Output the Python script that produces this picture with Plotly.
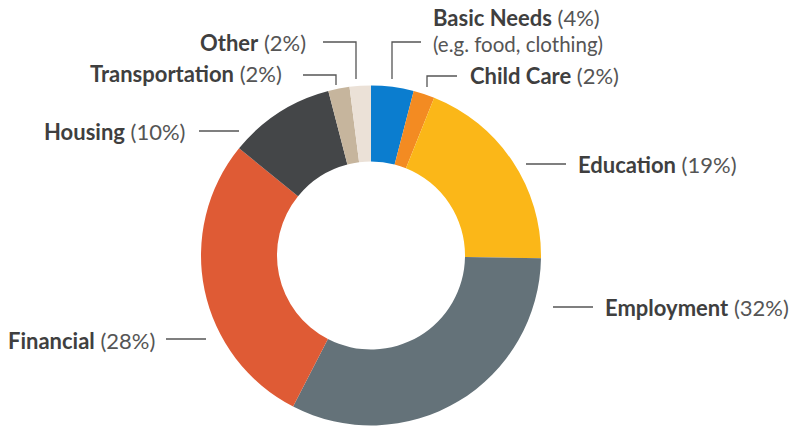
import plotly.graph_objects as go

# Share of support by category (percent)
categories = ["Basic Needs", "Child Care", "Education", "Employment",
              "Financial", "Housing", "Transportation", "Other"]
shares = [4, 2, 19, 32, 28, 10, 2, 2]
slice_colors = ["#0b7dcf", "#f38b22", "#fbb718", "#647279",
                "#df5b35", "#444648", "#c6b59d", "#ebe1d7"]
subtitles = {"Basic Needs": "(e.g. food, clothing)"}

W, H = 793, 427


def px(x):
    return x / W


def py(y):
    return 1 - y / H


# label placement (pixels): anchor x, y, side; leader polyline
label_layout = {
    "Basic Needs":    dict(x=431, y=17, anchor="left",  leader=[(421, 42), (392, 42), (392, 79)]),
    "Child Care":     dict(x=468, y=76, anchor="left",  leader=[(457, 76), (427, 76), (427, 87)]),
    "Education":      dict(x=576, y=164, anchor="left", leader=[(566, 164), (526, 164)]),
    "Employment":     dict(x=603, y=307, anchor="left", leader=[(593, 307), (553, 307)]),
    "Financial":      dict(x=157, y=340, anchor="right", leader=[(166, 339), (206, 339)]),
    "Housing":        dict(x=187, y=131, anchor="right", leader=[(199, 131), (239, 131)]),
    "Transportation": dict(x=284, y=74, anchor="right", leader=[(303, 75), (336, 75), (336, 85)]),
    "Other":          dict(x=308, y=42, anchor="right", leader=[(323, 42), (356, 42), (356, 79)]),
}

FONT = "Lato, 'Open Sans', sans-serif"
FS = 22
SUB_FS = 20.5
BOLD_COL = "#3f3f3f"
REG_COL = "#555555"

fig = go.Figure(go.Pie(
    labels=categories,
    values=shares,
    marker=dict(colors=slice_colors, line=dict(width=0)),
    hole=0.553,
    sort=False,
    direction="clockwise",
    rotation=0,
    textinfo="none",
    hoverinfo="label+value",
    showlegend=False,
    domain=dict(x=[px(201), px(541)], y=[py(425.5), py(85.5)]),
))

annotations = []
shapes = []
for name, val in zip(categories, shares):
    spec = label_layout[name]
    annotations.append(dict(
        x=px(spec["x"]), y=py(spec["y"]), xref="paper", yref="paper",
        xanchor=spec["anchor"], yanchor="middle", showarrow=False,
        text=f"<b><span style='color:{BOLD_COL}'>{name}</span></b> ({val}%)",
        font=dict(family=FONT, size=FS, color=REG_COL),
    ))
    if name in subtitles:
        annotations.append(dict(
            x=px(spec["x"]), y=py(spec["y"] + 27), xref="paper", yref="paper",
            xanchor=spec["anchor"], yanchor="middle", showarrow=False,
            text=subtitles[name],
            font=dict(family=FONT, size=SUB_FS, color=REG_COL),
        ))
    pts = spec["leader"]
    path = "M " + " L ".join(f"{px(a)},{py(b)}" for a, b in pts)
    shapes.append(dict(type="path", path=path, xref="paper", yref="paper",
                       line=dict(color="#555555", width=1.3)))

fig.update_layout(
    width=W, height=H,
    margin=dict(l=0, r=0, t=0, b=0),
    paper_bgcolor="white", plot_bgcolor="white",
    annotations=annotations,
    shapes=shapes,
)

fig.write_html("out.html")
